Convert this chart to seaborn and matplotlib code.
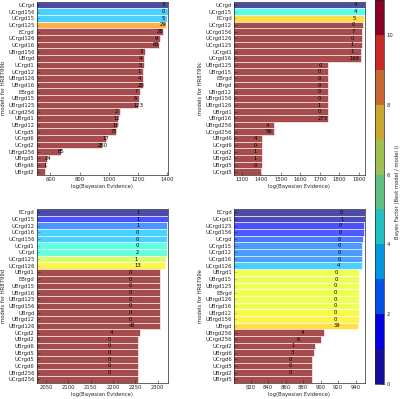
import matplotlib
matplotlib.use("Agg")
import matplotlib.pyplot as plt
import numpy as np
import seaborn as sns
from matplotlib import ticker
from matplotlib.colors import BoundaryNorm, ListedColormap, Normalize

sns.set_style("ticks", {"xtick.direction": "in", "ytick.direction": "in"})
plt.rcParams["font.family"] = ["DejaVu Sans"]

# HR8799b
labels_b = ["UCrgd", "UCrgd156", "UCrgd15", "UCrgd125", "ECrgd", "UCrgd126", "UCrgd16",
            "UBrgd156", "UBrgd", "UCrgd1", "UCrgd12", "UBrgd126", "UBrgd16", "EBrgd",
            "UBrgd15", "UBrgd125", "UCrgd256", "UBrgd1", "UBrgd12", "UCrgd5", "UCrgd6",
            "UCrgd2", "UBrgd256", "UBrgd5", "UBrgd6", "UBrgd2"]
logz_b = [1404, 1401, 1400, 1388, 1370, 1350, 1342, 1246, 1240, 1238, 1234, 1233, 1231,
          1211, 1205, 1201, 1074, 1062, 1056, 1046, 982, 951, 670, 576, 567, 563]
bf_b = [0, 3.4, 3.4, 8.3] + [11] * 22
count_b = ["3", "0", "5", "29", "28", "9", "83", "3", "4", "5", "1", "4", "20", "7", "6",
           "123", "2", "12", "18", "75", "17", "280", "85", "24", "1", ""]

# HR8799c
labels_c = ["UCrgd", "UCrgd15", "ECrgd", "UCrgd12", "UCrgd156", "UCrgd126", "UCrgd125",
            "UCrgd1", "UCrgd16", "UBrgd125", "UBrgd15", "EBrgd", "UBrgd", "UBrgd12",
            "UBrgd156", "UBrgd126", "UBrgd1", "UBrgd16", "UBrgd256", "UCrgd256", "UBrgd6",
            "UCrgd6", "UCrgd2", "UBrgd2", "UBrgd5", "UCrgd5"]
logz_c = [1931, 1929, 1925, 1919, 1918, 1914, 1914, 1913, 1910, 1744, 1743, 1743, 1743,
          1743, 1742, 1742, 1742, 1741, 1467, 1464, 1405, 1404, 1404, 1403, 1402, 1400]
bf_c = [0, 4.1, 7.6] + [11] * 23
count_c = ["4", "4", "5", "0", "7", "0", "1", "1", "166", "0", "0", "0", "0", "0", "0",
           "1", "0", "273", "4", "56", "4", "0", "1", "1", "0", ""]

# HR8799d
labels_d = ["ECrgd", "UCrgd15", "UCrgd12", "UCrgd16", "UCrgd156", "UCrgd1", "UCrgd",
            "UCrgd125", "UCrgd126", "UBrgd1", "EBrgd", "UBrgd15", "UBrgd16", "UBrgd125",
            "UBrgd156", "UBrgd", "UBrgd12", "UBrgd126", "UCrgd2", "UBrgd2", "UBrgd6",
            "UBrgd5", "UCrgd5", "UCrgd6", "UBrgd256", "UCrgd256"]
logz_d = [2323, 2322.5, 2321.5, 2320.5, 2320.5, 2320, 2320, 2318.5, 2317, 2305, 2305,
          2305, 2305, 2305, 2305, 2305, 2305, 2305, 2260, 2256, 2256, 2256, 2256, 2256,
          2256, 2255]
bf_d = [0, 1.5, 2.5, 3.4, 3.4, 4.2, 4.4, 6.5, 7.2] + [11] * 17
count_d = ["1", "1", "1", "0", "0", "0", "2", "1", "13", "0", "0", "0", "0", "0", "0",
           "0", "0", "43", "4", "0", "0", "0", "0", "0", "0", ""]

# HR8799e
labels_e = ["ECrgd", "UCrgd1", "UCrgd125", "UCrgd156", "UCrgd", "UCrgd15", "UCrgd12",
            "UCrgd16", "UCrgd126", "UBrgd1", "UBrgd15", "UBrgd125", "EBrgd", "UBrgd126",
            "UBrgd16", "UBrgd12", "UBrgd156", "UBrgd", "UBrgd256", "UCrgd256", "UCrgd2",
            "UBrgd6", "UCrgd6", "UCrgd5", "UBrgd2", "UBrgd5"]
logz_e = [950.7, 950.6, 949.0, 949.0, 948.3, 947.8, 947.7, 947.6, 947.0, 943.8, 943.8,
          943.6, 943.6, 943.6, 943.6, 943.4, 943.4, 942.8, 904, 900, 893, 892.6, 890.3,
          890.2, 890.1, 890.0]
bf_e = [0, 0.3, 1.5, 1.6, 2.1, 2.6, 2.6, 2.7, 3.4, 6.9, 6.9, 7.0, 7.0, 7.0, 7.0, 7.1,
        7.2, 7.6] + [11] * 8
count_e = ["0", "1", "0", "0", "0", "0", "0", "0", "4", "0", "0", "0", "0", "0", "0",
           "0", "0", "39", "4", "6", "1", "3", "0", "0", "0", ""]

CBAR_COLORS = ["#14109c", "#0000e0", "#0050e6", "#0098de", "#22c0c0", "#60c080",
               "#9dc050", "#c8a830", "#c86830", "#c82828", "#8b0028"]

PANELS = [
    ("HR8799b", labels_b, logz_b, bf_b, count_b, 200, [0.092, 0.561, 0.328, 0.435]),
    ("HR8799c", labels_c, logz_c, bf_c, count_c, 100, [0.585, 0.561, 0.3275, 0.435]),
    ("HR8799d", labels_d, logz_d, bf_d, count_d, 50, [0.092, 0.041, 0.328, 0.435]),
    ("HR8799e", labels_e, logz_e, bf_e, count_e, 20, [0.585, 0.041, 0.3275, 0.435]),
]

FS = 3.8
jet = plt.get_cmap("jet")
bnorm = Normalize(0, 11, clip=True)

fig = plt.figure(figsize=(4.0, 3.99), dpi=100)
for planet, labels, logz, bf, counts, step, rect in PANELS:
    ax = fig.add_axes(rect)
    colors = [jet(bnorm(b)) for b in bf]
    sns.barplot(x=logz, y=labels, hue=labels, palette=colors, legend=False, orient="h",
                width=1.0, saturation=1, edgecolor="white", linewidth=0.6, alpha=0.7,
                ax=ax)
    for i, (v, s) in enumerate(zip(logz, counts)):
        ax.text(0.97 * v, i, s, fontsize=FS, ha="left", va="center", color="black")
    ax.set_xlim(0.9 * min(logz), max(logz))
    ax.set_ylim(len(labels) - 0.5, -0.5)
    ax.xaxis.set_major_locator(ticker.MultipleLocator(step))
    ax.set_xlabel("log(Bayesian Evidence)", fontsize=FS, labelpad=1.5)
    ax.set_ylabel(f"models for {planet}", fontsize=FS, labelpad=1.5)
    ax.tick_params(labelsize=FS, length=2, width=0.4, pad=1.5)
    for sp in ax.spines.values():
        sp.set_linewidth(0.5)
    ax.spines["top"].set_visible(True)
    ax.spines["right"].set_visible(True)

cax = fig.add_axes([0.9375, 0.0376, 0.0235, 0.9624])
sm = plt.cm.ScalarMappable(cmap=ListedColormap(CBAR_COLORS),
                           norm=BoundaryNorm(np.arange(12), 11))
cb = fig.colorbar(sm, cax=cax, ticks=[0, 2, 4, 6, 8, 10])
cb.set_label("Bayes Factor (Best model / model i)", fontsize=FS, labelpad=1)
cb.ax.tick_params(labelsize=FS, length=2, width=0.4, pad=1.5)
cb.outline.set_linewidth(0.5)

fig.savefig("out.png", dpi=100)
